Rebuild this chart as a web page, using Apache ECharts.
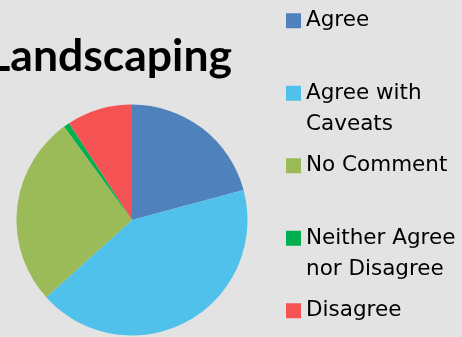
<!DOCTYPE html>
<html>
<head>
<meta charset="utf-8">
<script src="https://cdn.jsdelivr.net/npm/echarts@6/dist/echarts.min.js"></script>
<style>
  html, body { margin: 0; padding: 0; background: #e3e3e3; }
  #chart { width: 462px; height: 337px; }
</style>
</head>
<body>
<div id="chart"></div>
<script>
// Survey responses for the landscaping question
const categories = ['Agree', 'Agree with Caveats', 'No Comment', 'Neither Agree nor Disagree', 'Disagree'];
const responses = [25, 51, 32, 1, 11];
// Legend text, wrapped as it appears beside the pie
const legendLabels = ['Agree', 'Agree with\nCaveats', 'No Comment', 'Neither Agree\nnor Disagree', 'Disagree'];
const colors = ['#4f81bd', '#4fc1ea', '#9bbb59', '#00b050', '#f55253'];

const LINE = 31.5;

// Every legend label is padded to three lines (blank, text, continuation) so the
// first text line sits level with its swatch and all entries share one height.
function threeLine(label) {
  const parts = label.split('\n');
  return '\n' + parts[0] + '\n' + (parts[1] || ' ');
}

const chart = echarts.init(document.getElementById('chart'), null, { renderer: 'canvas' });

chart.setOption({
  backgroundColor: '#e3e3e3',
  animation: false,
  title: {
    text: 'Landscaping',
    right: 230,
    top: 33.5,
    padding: 0,
    textStyle: {
      fontFamily: 'Lato',
      fontWeight: 'bold',
      fontSize: 44.5,
      lineHeight: 46,
      color: '#000'
    }
  },
  legend: {
    orient: 'vertical',
    left: 286,
    top: -26.5,
    height: 600,
    padding: 0,
    itemGap: 72.5 - 3 * LINE,
    itemWidth: 15,
    itemHeight: 15,
    icon: 'rect',
    textStyle: {
      fontFamily: 'DejaVu Sans',
      fontSize: 21.5,
      lineHeight: LINE,
      color: '#000'
    },
    formatter: name => threeLine(legendLabels[categories.indexOf(name)]),
    data: categories
  },
  series: [{
    type: 'pie',
    center: [132, 220],
    radius: 115.5,
    startAngle: 90,
    clockwise: true,
    label: { show: false },
    labelLine: { show: false },
    itemStyle: { borderWidth: 0 },
    emphasis: { disabled: true },
    data: categories.map((name, i) => ({
      name: name,
      value: responses[i],
      itemStyle: { color: colors[i] }
    }))
  }]
});
</script>
</body>
</html>
